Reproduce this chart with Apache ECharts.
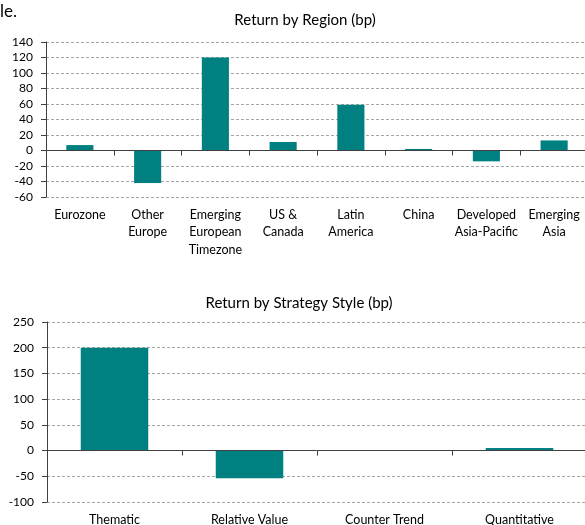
<!DOCTYPE html>
<html>
<head>
<meta charset="utf-8">
<script src="https://cdn.jsdelivr.net/npm/echarts@6/dist/echarts.min.js"></script>
<style>
  html, body { margin: 0; padding: 0; background: #fff; }
  #chart-container { width: 585px; height: 525px; }
</style>
</head>
<body>
<div id="chart-container"></div>
<script>
var dom = document.getElementById("chart-container");
var myChart = echarts.init(dom, null, { renderer: "canvas" });

// region chart data
const regionCats = [
  "Eurozone",
  "Other\nEurope",
  "Emerging\nEuropean\nTimezone",
  "US &\nCanada",
  "Latin\nAmerica",
  "China",
  "Developed\nAsia-Pacific",
  "Emerging\nAsia",
];
const regionVals = [7, -42, 120, 11, 59, 2, -14, 13];
const regionTicks = [-60, 140, 20]; // min, max, step

// strategy style data
const styleCats = ["Thematic", "Relative Value", "Counter Trend", "Quantitative"];
const styleVals = [200, -54, 0, 5];
const styleTicks = [-100, 250, 50];

const FONT = "Lato";
const TEAL = "#008080";
const AXIS = "#404040";
const GRIDLINE = "#a6a6a6";

function yAxisFor(gridIndex, ticks) {
  return {
    type: "value",
    gridIndex: gridIndex,
    min: ticks[0],
    max: ticks[1],
    interval: ticks[2],
    axisLine: { show: true, lineStyle: { color: AXIS, width: 1 } },
    axisTick: { show: true, length: 5, lineStyle: { color: AXIS } },
    axisLabel: { color: "#000", fontSize: 12, fontFamily: FONT, margin: 13 },
    splitLine: { lineStyle: { color: GRIDLINE, type: [3, 2], width: 1 } },
  };
}

// labels at the bottom of the plot
function labelAxis(gridIndex, cats) {
  return {
    type: "category",
    gridIndex: gridIndex,
    data: cats,
    position: "bottom",
    axisLine: { show: false, onZero: false },
    axisTick: { show: false },
    axisLabel: {
      color: "#000",
      fontSize: 12.5,
      fontFamily: FONT,
      lineHeight: 17.5,
      margin: 9,
      interval: 0,
    },
  };
}

// axis line + ticks sitting on zero
function zeroAxis(gridIndex, cats) {
  return {
    type: "category",
    gridIndex: gridIndex,
    data: cats,
    position: "bottom",
    z: 3,
    axisLine: { show: true, onZero: true, lineStyle: { color: AXIS, width: 1 } },
    axisTick: { show: true, length: 5, interval: 0, lineStyle: { color: AXIS } },
    axisLabel: { show: false },
    splitLine: { show: false },
  };
}

const barStyle = { color: TEAL };

option = {
  animation: false,
  textStyle: { fontFamily: FONT },
  title: [
    {
      text: "Return by Region (bp)",
      left: 300,
      textAlign: "center",
      top: 8,
      textStyle: { fontSize: 15, fontWeight: "normal", color: "#000", fontFamily: FONT },
    },
    {
      text: "Return by Strategy Style (bp)",
      left: 294,
      textAlign: "center",
      top: 291,
      textStyle: { fontSize: 15, fontWeight: "normal", color: "#000", fontFamily: FONT },
    },
  ],
  graphic: [
    {
      type: "text",
      left: 0,
      top: 3,
      style: { text: "le.", fontSize: 17, fontFamily: FONT, fill: "#000" },
    },
  ],
  grid: [
    { left: 46, top: 42, width: 542, height: 155, outerBoundsMode: "none" },
    { left: 47, top: 322, width: 540, height: 180, outerBoundsMode: "none" },
  ],
  xAxis: [
    labelAxis(0, regionCats),
    zeroAxis(0, regionCats),
    labelAxis(1, styleCats),
    zeroAxis(1, styleCats),
  ],
  yAxis: [yAxisFor(0, regionTicks), yAxisFor(1, styleTicks)],
  series: [
    {
      name: "Return by Region",
      type: "bar",
      xAxisIndex: 0,
      yAxisIndex: 0,
      data: regionVals,
      barWidth: "40%",
      itemStyle: barStyle,
    },
    {
      name: "Return by Strategy Style",
      type: "bar",
      xAxisIndex: 2,
      yAxisIndex: 1,
      data: styleVals,
      barWidth: "50%",
      itemStyle: barStyle,
    },
  ],
};

if (option && typeof option === "object") {
  myChart.setOption(option);
}

window.addEventListener("resize", myChart.resize);
</script>
</body>
</html>
